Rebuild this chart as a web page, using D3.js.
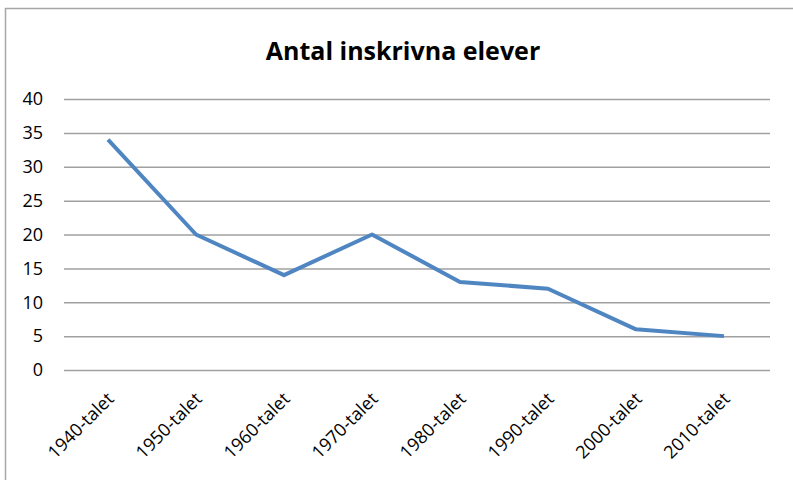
<!DOCTYPE html>
<html><head><meta charset="utf-8">
<script src="https://cdn.jsdelivr.net/npm/d3@7"></script>
<style>body{margin:0;background:#fff}svg{display:block}</style>
</head><body>
<svg id="c" width="793" height="480"></svg>
<script>
const categories = ["1940-talet","1950-talet","1960-talet","1970-talet","1980-talet","1990-talet","2000-talet","2010-talet"];
const values = [34,20,14,20,13,12,6,5];
const yTicks = [0,5,10,15,20,25,30,35,40];
const title = "Antal inskrivna elever";

const svg = d3.select("#c");
const font = "'Open Sans', sans-serif";
svg.append("rect").attr("x",5.5).attr("y",8.5).attr("width",800).attr("height",500)
  .attr("fill","#fff").attr("stroke","#a6a6a6").attr("stroke-width",1.5);

const x = d3.scaleBand().domain(categories).range([64,768]);
const y = d3.scaleLinear().domain([0,40]).range([370,99]);

const gy = svg.append("g").attr("transform","translate(64,0)")
  .call(d3.axisLeft(y).tickValues(yTicks).tickSize(-(770-64)).tickPadding(21));
gy.select(".domain").remove();
gy.selectAll(".tick line").attr("stroke","#a0a0a0").attr("stroke-width",1.5);
gy.selectAll(".tick text").attr("font-family",font).attr("font-size",18).attr("fill","#000");

const gx = svg.append("g").attr("transform","translate(0,370)")
  .call(d3.axisBottom(x).tickSize(0).tickPadding(0));
gx.select(".domain").remove();
gx.selectAll(".tick text").attr("font-family",font).attr("font-size",18).attr("fill","#000")
  .attr("text-anchor","end").attr("dy",0).attr("y",0)
  .attr("transform","translate(7,30) rotate(-45)");

svg.append("path").datum(values)
  .attr("fill","none").attr("stroke","#4f86c2").attr("stroke-width",4).attr("stroke-linejoin","round")
  .attr("d", d3.line().x((d,i)=>x(categories[i])+x.bandwidth()/2).y(d=>y(d)));

svg.append("text").attr("x",403).attr("y",60).attr("text-anchor","middle")
  .attr("font-family",font).attr("font-weight","bold").attr("font-size",25).text(title);
</script>
</body></html>
